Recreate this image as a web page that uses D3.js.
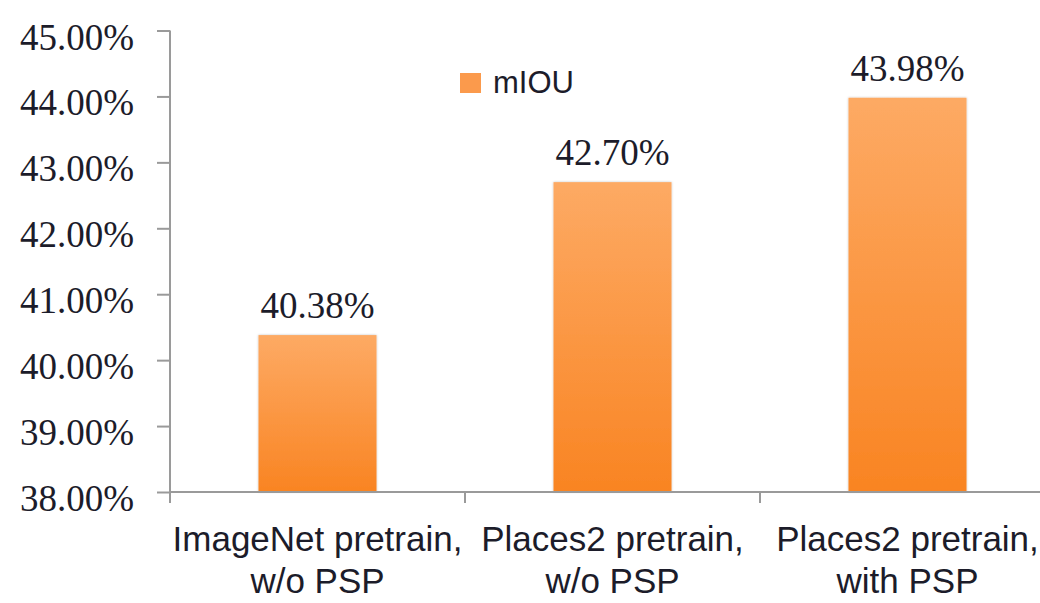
<!DOCTYPE html>
<html>
<head>
<meta charset="utf-8">
<script src="https://cdn.jsdelivr.net/npm/d3@7"></script>
<style>
  html, body { margin: 0; padding: 0; background: #fff; }
  svg { display: block; }
</style>
</head>
<body>
<svg id="chart" width="1040" height="603"></svg>
<script>
// ---- data ----
const categories = [
  ["ImageNet pretrain,", "w/o PSP"],
  ["Places2 pretrain,", "w/o PSP"],
  ["Places2 pretrain,", "with PSP"]
];
const seriesName = "mIOU";
const values = [40.38, 42.70, 43.98];
const yTicks = [38, 39, 40, 41, 42, 43, 44, 45];

// ---- layout ----
const plotLeft = 170, plotRight = 1055, plotTop = 30.5, plotBottom = 492;

const svg = d3.select("#chart");

const defs = svg.append("defs");
const grad = defs.append("linearGradient")
  .attr("id", "barGrad").attr("x1", 0).attr("y1", 0).attr("x2", 0).attr("y2", 1);
grad.append("stop").attr("offset", "0%").attr("stop-color", "#fdaa64");
grad.append("stop").attr("offset", "100%").attr("stop-color", "#f98422");
const flt = defs.append("filter").attr("id", "shadow")
  .attr("x", "-10%").attr("y", "-10%").attr("width", "120%").attr("height", "120%");
flt.append("feDropShadow").attr("dx", 0).attr("dy", 0).attr("stdDeviation", 1.2)
  .attr("flood-color", "#000").attr("flood-opacity", 0.25);

const catKeys = categories.map((c, i) => i);
const x = d3.scaleBand().domain(catKeys).range([plotLeft, plotRight])
  .paddingInner(0.6).paddingOuter(0.3);
const y = d3.scaleLinear().domain([38, 45]).range([plotBottom, plotTop]);

// y axis
const yAxis = svg.append("g")
  .attr("transform", `translate(${plotLeft},0)`)
  .call(d3.axisLeft(y).tickValues(yTicks).tickSize(13).tickPadding(23)
    .tickFormat(d => d.toFixed(2) + "%"));
yAxis.select(".domain").remove();
yAxis.selectAll(".tick line").attr("stroke", "#9a9a9a").attr("stroke-width", 2);
yAxis.selectAll(".tick text")
  .attr("font-family", "'Liberation Serif', 'Times New Roman', serif")
  .attr("font-size", 37).attr("fill", "#1c1c2a").attr("dy", "0.5em");
yAxis.append("line")
  .attr("x1", 0).attr("x2", 0).attr("y1", y(45)).attr("y2", plotBottom + 10)
  .attr("stroke", "#9a9a9a").attr("stroke-width", 2);

// bars
svg.append("g").selectAll("rect").data(values).join("rect")
  .attr("x", (d, i) => x(i))
  .attr("width", x.bandwidth())
  .attr("y", d => y(d))
  .attr("height", d => y(38) - y(d))
  .attr("fill", "url(#barGrad)")
  .attr("filter", "url(#shadow)");

// x axis
const step = x.step();
const bounds = d3.range(categories.length + 1).map(i => plotLeft + i * step);
const xg = svg.append("g");
xg.append("line")
  .attr("x1", plotLeft).attr("x2", plotRight).attr("y1", plotBottom).attr("y2", plotBottom)
  .attr("stroke", "#9a9a9a").attr("stroke-width", 2);
xg.selectAll("line.tk").data(bounds).join("line").attr("class", "tk")
  .attr("x1", d => d).attr("x2", d => d).attr("y1", plotBottom).attr("y2", plotBottom + 11)
  .attr("stroke", "#9a9a9a").attr("stroke-width", 2);

const catText = xg.selectAll("text.cat").data(categories).join("text").attr("class", "cat")
  .attr("x", (d, i) => x(i) + x.bandwidth() / 2)
  .attr("y", 551)
  .attr("text-anchor", "middle")
  .attr("font-family", "'Liberation Sans', Arial, sans-serif")
  .attr("font-size", 35)
  .attr("fill", "#1c1c2a");
catText.selectAll("tspan").data(d => d).join("tspan")
  .attr("x", function() { return this.parentNode.getAttribute("x"); })
  .attr("dy", (d, j) => j === 0 ? 0 : 42)
  .text(d => d);

// value labels
svg.append("g").selectAll("text").data(values).join("text")
  .attr("x", (d, i) => x(i) + x.bandwidth() / 2)
  .attr("y", d => y(d) - 17)
  .attr("text-anchor", "middle")
  .attr("font-family", "'Liberation Serif', 'Times New Roman', serif")
  .attr("font-size", 37)
  .attr("fill", "#1c1c2a")
  .text(d => d.toFixed(2) + "%");

// legend
const lg = svg.append("g").attr("transform", "translate(460,73)");
lg.append("rect").attr("width", 21).attr("height", 20).attr("fill", "#fb9a4c");
lg.append("text").attr("x", 33).attr("y", 20)
  .attr("font-family", "'Liberation Sans', Arial, sans-serif")
  .attr("font-size", 31).attr("fill", "#1c1c2a")
  .text(seriesName);
</script>
</body>
</html>
